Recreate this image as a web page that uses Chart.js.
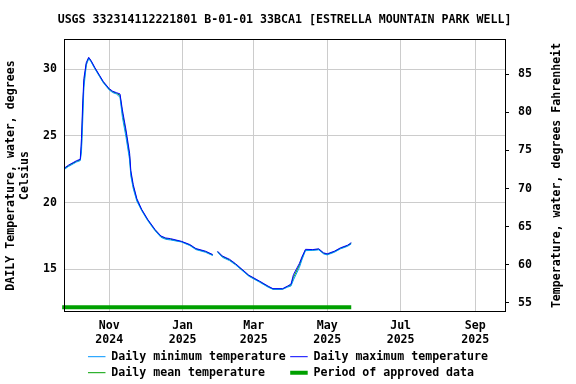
<!DOCTYPE html>
<html>
<head>
<meta charset="utf-8">
<script src="https://cdn.jsdelivr.net/npm/chart.js@4.4.1/dist/chart.umd.min.js"></script>
<style>
  html, body { margin: 0; padding: 0; background: #fff; }
</style>
</head>
<body>
<canvas id="tempChart" width="576" height="384"></canvas>
<script>
const chartTitle = 'USGS 332314112221801 B-01-01 33BCA1 [ESTRELLA MOUNTAIN PARK WELL]';
const leftTitle = ['DAILY Temperature, water, degrees', 'Celsius'];
const rightTitle = 'Temperature, water, degrees Fahrenheit';

const dates = ['2024-09-25','2024-09-28','2024-10-02','2024-10-05','2024-10-08','2024-10-09','2024-10-10','2024-10-11','2024-10-13','2024-10-15',
  '2024-10-17','2024-10-20','2024-10-24','2024-10-27','2024-11-01','2024-11-04','2024-11-07','2024-11-10','2024-11-12','2024-11-15',
  '2024-11-18','2024-11-19','2024-11-21','2024-11-24','2024-11-28','2024-12-03','2024-12-09','2024-12-14','2024-12-18','2024-12-22',
  '2024-12-31','2025-01-07','2025-01-12','2025-01-20','2025-01-26','2025-01-28','2025-01-30','2025-02-03','2025-02-09','2025-02-14',
  '2025-02-25','2025-03-06','2025-03-13','2025-03-17','2025-03-25','2025-03-29','2025-04-01','2025-04-03','2025-04-08','2025-04-10',
  '2025-04-13','2025-04-19','2025-04-24','2025-04-28','2025-05-01','2025-05-07','2025-05-12','2025-05-18','2025-05-21'];

const minTemp = [22.5, 22.7, 22.9, 23.05, 23.15, 23.8, 26.0, 28.6, 30.3, 30.8,
  30.55, 30.05, 29.45, 29.0, 28.45, 28.25, 28.15, 27.9, 26.4, 24.9,
  23.2, 22.0, 21.05, 20.1, 19.4, 18.65, 17.9, 17.4, 17.25, 17.2,
  17.05, 16.78, 16.48, 16.28, 16.03, null, 16.28, 15.9, 15.65, 15.33,
  14.48, 14.03, 13.66, 13.5, 13.5, 13.66, 13.75, 14.2, 15.15, 15.7,
  16.4, 16.42, 16.46, 16.16, 16.08, 16.28, 16.53, 16.73, 16.9];

const maxTemp = [22.6, 22.8, 23.0, 23.15, 23.25, 24.8, 27.4, 29.3, 30.5, 30.9,
  30.65, 30.15, 29.55, 29.1, 28.55, 28.35, 28.25, 28.15, 26.95, 25.45,
  23.7, 22.4, 21.35, 20.3, 19.5, 18.75, 18.0, 17.5, 17.35, 17.3,
  17.1, 16.86, 16.56, 16.36, 16.11, null, 16.36, 16.0, 15.75, 15.42,
  14.56, 14.11, 13.74, 13.55, 13.55, 13.74, 13.9, 14.6, 15.45, 15.92,
  16.5, 16.48, 16.54, 16.24, 16.16, 16.36, 16.61, 16.81, 17.0];

const meanTemp = [22.55, 22.75, 22.95, 23.1, 23.2, 24.2, 26.8, 29.0, 30.4, 30.85,
  30.6, 30.1, 29.5, 29.05, 28.5, 28.3, 28.2, 28.05, 26.7, 25.2,
  23.45, 22.2, 21.2, 20.2, 19.45, 18.7, 17.95, 17.45, 17.3, 17.25,
  17.07, 16.82, 16.52, 16.32, 16.07, null, 16.32, 15.95, 15.7, 15.37,
  14.52, 14.07, 13.7, 13.52, 13.52, 13.7, 13.82, 14.4, 15.32, 15.82,
  16.45, 16.45, 16.5, 16.2, 16.12, 16.32, 16.57, 16.77, 16.95];

const approvedPeriod = ['2024-09-23', '2025-05-21'];
const approvedLevel = 12.15;

const xRange = ['2024-09-24', '2025-09-26'];
const tickDates = ['2024-11-01','2025-01-01','2025-03-01','2025-05-01','2025-07-01','2025-09-01'];
const tickLabels = [['Nov','2024'],['Jan','2025'],['Mar','2025'],['May','2025'],['Jul','2025'],['Sep','2025']];
const celsiusRange = [11.8, 32.27];
const celsiusTicks = [15, 20, 25, 30];
const fahrenheitRange = [53.78, 89.64];
const fahrenheitTicks = [55, 60, 65, 70, 75, 80, 85];

const seriesNames = ['Daily minimum temperature', 'Daily maximum temperature', 'Daily mean temperature', 'Period of approved data'];

function dayNum(s) {
    const p = s.split('-').map(Number);
    return Date.UTC(p[0], p[1] - 1, p[2]) / 86400000;
}

function points(vals) {
    return dates.map((d, i) => ({ x: dayNum(d), y: vals[i] }));
}

const monoFont = { family: "'DejaVu Sans Mono', monospace", size: 11.6, weight: 'bold' };
Chart.defaults.font = monoFont;
Chart.defaults.color = '#000';

const frame = {
    id: 'frame',
    afterDraw(chart) {
        const { ctx, chartArea: a } = chart;
        ctx.save();
        ctx.strokeStyle = '#000';
        ctx.lineWidth = 1;
        ctx.strokeRect(Math.round(a.left) + 0.5, Math.round(a.top) + 0.5,
            Math.round(a.right - a.left) - 1, Math.round(a.bottom - a.top) - 1);
        // right axis title reads bottom to top like the left one
        const s = chart.scales.y2;
        ctx.translate(s.left + 50.7, (a.top + a.bottom) / 2);
        ctx.rotate(-Math.PI / 2);
        ctx.font = "bold 11.6px 'DejaVu Sans Mono', monospace";
        ctx.fillStyle = '#000';
        ctx.textAlign = 'center';
        ctx.textBaseline = 'middle';
        ctx.fillText(rightTitle, 0, 0);
        ctx.restore();
    }
};

const ctx = document.getElementById('tempChart').getContext('2d');

new Chart(ctx, {
    type: 'line',
    data: {
        datasets: [{
            label: seriesNames[0],
            data: points(minTemp),
            borderColor: '#0096ff',
            backgroundColor: '#0096ff',
            borderWidth: 1,
            order: 1
        }, {
            label: seriesNames[1],
            data: points(maxTemp),
            borderColor: '#0000ff',
            backgroundColor: '#0000ff',
            borderWidth: 1,
            order: 0
        }, {
            label: seriesNames[2],
            data: points(meanTemp),
            borderColor: '#00a000',
            backgroundColor: '#00a000',
            borderWidth: 1,
            order: 2
        }, {
            label: seriesNames[3],
            data: approvedPeriod.map(d => ({ x: dayNum(d), y: approvedLevel })),
            borderColor: '#00a000',
            backgroundColor: '#00a000',
            borderWidth: 4,
            clip: false,
            order: 3
        }]
    },
    options: {
        responsive: false,
        animation: false,
        events: [],
        elements: { point: { radius: 0 }, line: { tension: 0 } },
        layout: { padding: 0 },
        scales: {
            x: {
                type: 'linear',
                position: 'bottom',
                min: dayNum(xRange[0]) + 0.5,
                max: dayNum(xRange[1]) + 0.5,
                afterBuildTicks: s => { s.ticks = tickDates.map(d => ({ value: dayNum(d) })); },
                afterFit: s => { s.height = 34.5; },
                ticks: {
                    autoSkip: false,
                    maxRotation: 0,
                    padding: 7,
                    callback: (v, i) => tickLabels[i]
                },
                grid: { color: '#cccccc', drawTicks: false },
                border: { display: false }
            },
            y: {
                position: 'left',
                min: celsiusRange[0],
                max: celsiusRange[1],
                afterBuildTicks: s => { s.ticks = celsiusTicks.map(v => ({ value: v })); },
                afterFit: s => { s.width = 64; },
                ticks: { padding: 7 },
                grid: { color: '#cccccc', drawTicks: false },
                border: { display: false },
                title: { display: true, text: leftTitle, padding: { top: 4, bottom: 0 } }
            },
            y2: {
                position: 'right',
                min: fahrenheitRange[0],
                max: fahrenheitRange[1],
                afterBuildTicks: s => { s.ticks = fahrenheitTicks.map(v => ({ value: v })); },
                afterFit: s => { s.width = 70; },
                ticks: { padding: 9 },
                grid: { drawOnChartArea: false, drawTicks: true, tickLength: 3, tickColor: '#000' },
                border: { display: false }
            }
        },
        plugins: {
            title: {
                display: true,
                // trailing space nudges the centred monospace title a little left, over the plot
                text: chartTitle + ' ',
                fullSize: true,
                padding: { top: 13, bottom: 12.08 }
            },
            legend: {
                position: 'bottom',
                maxHeight: 37.5,
                labels: {
                    usePointStyle: true,
                    pointStyle: 'line',
                    pointStyleWidth: 17.5,
                    padding: 4.4,
                    sort: (a, b) => a.datasetIndex - b.datasetIndex,
                    generateLabels: chart => Chart.defaults.plugins.legend.labels.generateLabels(chart)
                        .map(item => Object.assign(item, { text: item.text.padEnd(25) }))
                }
            },
            tooltip: { enabled: false }
        }
    },
    plugins: [frame]
});
</script>
</body>
</html>
